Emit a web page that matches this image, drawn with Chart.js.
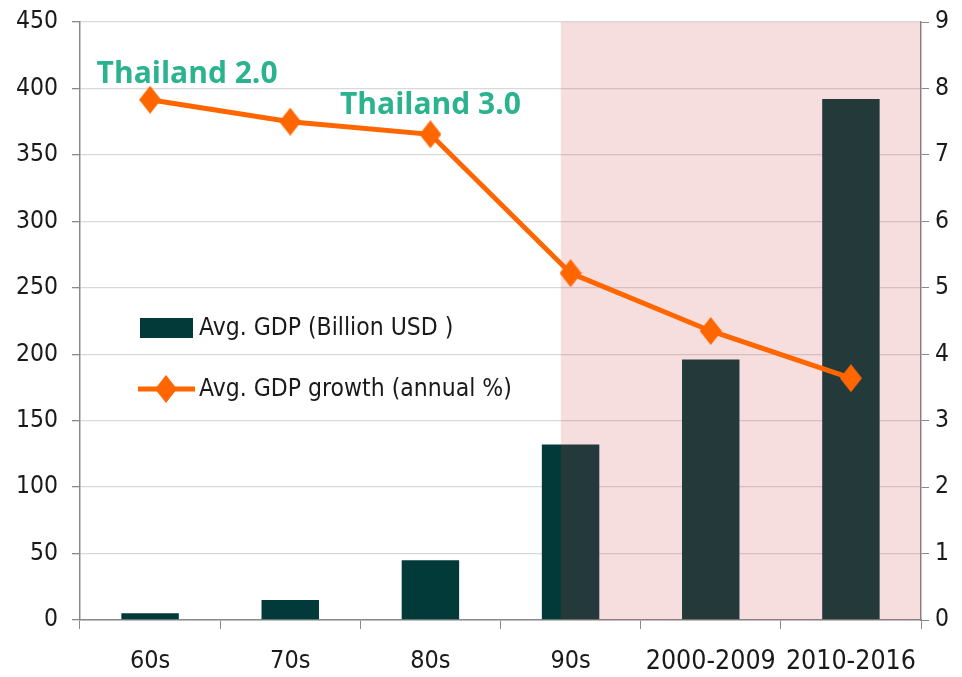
<!DOCTYPE html>
<html><head><meta charset="utf-8">
<script src="https://cdn.jsdelivr.net/npm/chart.js@4.4.1/dist/chart.umd.min.js"></script>
<style>html,body{margin:0;padding:0;background:#fff}#wrap{width:962px;height:677px}</style>
</head><body><div id="wrap"><canvas id="c" width="962" height="677"></canvas></div>
<script>
const categories = ['60s', '70s', '80s', '90s', '2000-2009', '2010-2016'];
const gdpBillionUSD = [5, 15, 45, 132, 196, 392];
const gdpGrowthPct = [7.83, 7.5, 7.31, 5.22, 4.35, 3.64];
const seriesLabels = ['Avg. GDP (Billion USD )', 'Avg. GDP growth (annual %)'];
const annotationLabels = ['Thailand 2.0', 'Thailand 3.0'];
const annotationAt = [0, 2];
const shadedFrom = 2.93;

const NARROW = "'Liberation Sans Narrow', 'DejaVu Sans Condensed', sans-serif";
const BAR_COLOR = '#023a3a';
const LINE_COLOR = '#ff6600';
const TEAL = '#2bb38f';

function diamond(w, h) {
  const c = document.createElement('canvas');
  c.width = w; c.height = h;
  const g = c.getContext('2d');
  g.fillStyle = LINE_COLOR;
  g.beginPath();
  g.moveTo(w / 2, 0); g.lineTo(w, h / 2); g.lineTo(w / 2, h); g.lineTo(0, h / 2);
  g.closePath(); g.fill();
  return c;
}
const marker = diamond(22, 28);

function noPad(s) { s.paddingTop = 0; s.paddingBottom = 0; s.paddingLeft = 0; s.paddingRight = 0; }

const overlayPlugin = {
  id: 'overlay',
  beforeDatasetDraw(chart, args) {
    if (args.index !== 0) return;
    const { ctx, chartArea } = chart;
    const x0 = chart.scales.x.getPixelForValue(shadedFrom);
    ctx.save();
    ctx.fillStyle = 'rgba(205, 60, 60, 0.17)';
    ctx.fillRect(x0, chartArea.top, chartArea.right - x0, chartArea.bottom - chartArea.top);
    ctx.restore();
  },
  afterDatasetsDraw(chart) {
    const { ctx } = chart;
    const meta = chart.getDatasetMeta(0);
    ctx.save();
    ctx.fillStyle = TEAL;
    ctx.font = "bold 30px 'Open Sans', sans-serif";
    ctx.textAlign = 'center';
    ctx.textBaseline = 'alphabetic';
    const p0 = meta.data[annotationAt[0]];
    ctx.fillText(annotationLabels[0], p0.x + 37, p0.y - 17);
    const p1 = meta.data[annotationAt[1]];
    ctx.fillText(annotationLabels[1], p1.x, p1.y - 20);

    // legend
    const ca = chart.chartArea;
    const lx = ca.left + 60, ly1 = ca.top + 306, ly2 = ca.top + 367;
    ctx.fillStyle = BAR_COLOR;
    ctx.fillRect(lx, ly1 - 10, 53, 20);
    ctx.strokeStyle = LINE_COLOR;
    ctx.lineWidth = 5;
    ctx.beginPath(); ctx.moveTo(lx - 2, ly2); ctx.lineTo(lx + 55, ly2); ctx.stroke();
    ctx.drawImage(marker, lx + 26 - 11, ly2 - 14);
    ctx.fillStyle = '#1a1a1a';
    ctx.textAlign = 'left';
    ctx.textBaseline = 'middle';
    ctx.font = "24.5px " + NARROW;
    ctx.fillText(seriesLabels[0], lx + 59, ly1 + 1);
    ctx.fillText(seriesLabels[1], lx + 59, ly2 + 1);
    ctx.restore();
  }
};

new Chart(document.getElementById('c'), {
  data: {
    labels: categories,
    datasets: [
      {
        type: 'line', label: seriesLabels[1], data: gdpGrowthPct, yAxisID: 'y1',
        borderColor: LINE_COLOR, borderWidth: 5, pointStyle: marker,
        pointRadius: 11, pointHoverRadius: 11, tension: 0, order: 0
      },
      {
        type: 'bar', label: seriesLabels[0], data: gdpBillionUSD, yAxisID: 'y',
        backgroundColor: BAR_COLOR, barPercentage: 0.41, categoryPercentage: 1, order: 1
      }
    ]
  },
  options: {
    responsive: false, animation: false, devicePixelRatio: 1,
    layout: { autoPadding: false, padding: { top: 22, left: 0, right: 0, bottom: 0 } },
    plugins: { legend: { display: false }, tooltip: { enabled: false } },
    scales: {
      x: {
        offset: true,
        grid: { offset: true, drawOnChartArea: false, drawTicks: true, tickLength: 9, color: '#898989' },
        border: { color: '#898989', width: 1.5 },
        ticks: {
          color: '#1a1a1a', padding: 17, maxRotation: 0, autoSkip: false,
          font: (c) => ({ family: NARROW, size: c.index >= 4 ? 26.5 : 25 })
        },
        afterFit: (s) => { s.height = 57; noPad(s); }
      },
      y: {
        position: 'left', min: 0, max: 450,
        ticks: { stepSize: 50, color: '#1a1a1a', padding: 14, font: { family: NARROW, size: 24.5 } },
        grid: { color: '#d9d9d9', lineWidth: 1.3, tickLength: 8, tickColor: '#898989' },
        border: { color: '#898989', width: 1.5 },
        afterFit: (s) => { s.width = 80; noPad(s); }
      },
      y1: {
        position: 'right', min: 0, max: 9,
        ticks: { stepSize: 1, color: '#1a1a1a', padding: 6, font: { family: NARROW, size: 24.5 } },
        grid: { drawOnChartArea: false, tickLength: 8, color: '#898989' },
        border: { color: '#898989', width: 1.5 },
        afterFit: (s) => { s.width = 41; noPad(s); }
      }
    }
  },
  plugins: [overlayPlugin]
});
</script></body></html>
